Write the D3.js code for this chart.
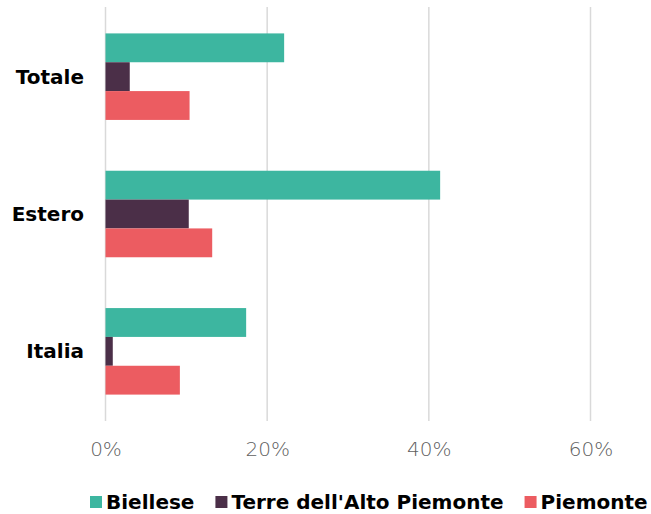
<!DOCTYPE html>
<meta charset="utf-8">
<style>
body { margin: 0; background: #fff; }
.cat { font: 700 20px "DejaVu Sans", sans-serif; fill: #000; }
.tick text { font: 200 20px "DejaVu Sans", sans-serif; fill: #5f5f5f; }
.legend text { font: 700 20px "DejaVu Sans", sans-serif; fill: #000; }
</style>
<body>
<script src="https://cdn.jsdelivr.net/npm/d3@7"></script>
<script>

const categories = ["Totale", "Estero", "Italia"];
const seriesNames = ["Biellese", "Terre dell'Alto Piemonte", "Piemonte"];
const biellese = [0.221, 0.414, 0.174];
const terre = [0.030, 0.103, 0.009];
const piemonte = [0.104, 0.132, 0.092];
const tickValues = [0, 0.2, 0.4, 0.6];
const colors = ["#3db6a0", "#4b2f48", "#ec5c61"];

const width = 651, height = 514;
const series = [biellese, terre, piemonte];

const svg = d3.select("body").append("svg")
    .attr("width", width)
    .attr("height", height);

const x = d3.scaleLinear()
    .domain([0, 0.6])
    .range([105.5, 590.5]);

const y = d3.scaleBand()
    .domain(categories)
    .range([8, 420])
    .paddingInner(0.37)
    .paddingOuter(0.185);

const y1 = d3.scaleBand()
    .domain(seriesNames)
    .range([0, y.bandwidth()]);

// grid + tick labels
const xAxis = d3.axisBottom(x)
    .tickValues(tickValues)
    .tickFormat(d3.format(".0%"))
    .tickSize(0)
    .tickPadding(0);

const ax = svg.append("g")
    .attr("transform", "translate(0,420)")
    .call(xAxis);
ax.select(".domain").remove();
ax.selectAll(".tick text").attr("dy", null).attr("y", 36);

svg.append("g").selectAll("line")
    .data(tickValues)
    .join("line")
    .attr("x1", d => x(d)).attr("x2", d => x(d))
    .attr("y1", 7).attr("y2", 421)
    .attr("stroke", "#d9d9d9")
    .attr("stroke-width", 1.5);

// bars
const groups = svg.append("g").selectAll("g")
    .data(categories)
    .join("g")
    .attr("transform", d => "translate(0," + y(d) + ")");

groups.selectAll("rect")
    .data((c, i) => series.map((s, j) => ({ name: seriesNames[j], value: s[i], color: colors[j] })))
    .join("rect")
    .attr("x", x(0))
    .attr("y", d => y1(d.name))
    .attr("width", d => x(d.value) - x(0))
    .attr("height", y1.bandwidth())
    .attr("fill", d => d.color);

// category labels
svg.append("g").selectAll("text")
    .data(categories)
    .join("text")
    .attr("class", "cat")
    .attr("x", 84)
    .attr("y", d => y(d) + y.bandwidth() / 2)
    .attr("dy", "0.35em")
    .attr("text-anchor", "end")
    .text(d => d);

// legend
const legend = svg.append("g").attr("class", "legend");
let lx = 90;
seriesNames.forEach((name, i) => {
  legend.append("rect")
      .attr("x", lx).attr("y", 496)
      .attr("width", 12).attr("height", 12)
      .attr("fill", colors[i]);
  const t = legend.append("text")
      .attr("x", lx + 16).attr("y", 509)
      .text(name);
  lx += 16 + t.node().getComputedTextLength() + 21;
});

</script>
</body>
